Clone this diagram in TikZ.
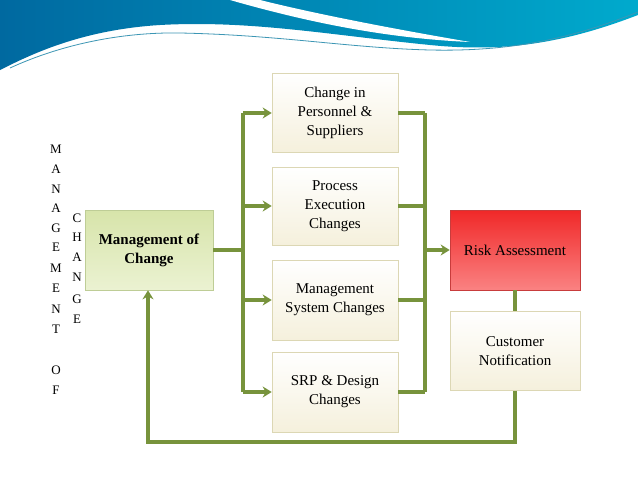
\documentclass[tikz,border=0pt]{standalone}
\usepackage{fontspec}
\setmainfont{Liberation Serif}
\usetikzlibrary{arrows.meta}
\definecolor{lineg}{RGB}{119,147,60}
\definecolor{wblue}{RGB}{0,105,160}
\definecolor{wcyan}{RGB}{0,170,205}
\definecolor{wline}{RGB}{60,150,180}
\definecolor{cbord}{RGB}{220,215,180}
\definecolor{cbot}{RGB}{245,240,220}
\definecolor{gbord}{RGB}{190,205,150}
\definecolor{gtop}{RGB}{215,228,170}
\definecolor{gbot}{RGB}{235,242,210}
\definecolor{rbord}{RGB}{200,60,60}
\definecolor{rtop}{RGB}{240,40,40}
\definecolor{rbot}{RGB}{250,130,130}
\begin{document}
\begin{tikzpicture}[x=1pt,y=-1pt,
  conn/.style={draw=lineg,line width=3.3pt},
  arr/.style={conn,-{Stealth[length=9pt,width=11pt]}},
  cbox/.style={draw=cbord,line width=0.6pt,top color=white,bottom color=cbot,
     minimum width=126pt,align=center,font=\fontsize{15}{19}\selectfont,inner sep=2pt},
  letter/.style={font=\fontsize{13}{13}\selectfont,inner sep=0pt}]
\useasboundingbox (0,0) rectangle (638,479);
\fill[white] (0,0) rectangle (638,479);
% header wave
\shade[left color=wblue,right color=wcyan]
  (0,0) -- (638,0) -- (638,15) .. controls (560,45) and (500,52) .. (430,45)
  .. controls (330,35) and (250,20) .. (160,25) .. controls (80,30) and (30,55) .. (0,70) -- cycle;
\fill[white] (230,0) .. controls (300,20) and (380,38) .. (470,42) .. controls (400,30) and (320,15) .. (260,0) -- cycle;
\draw[wline,line width=0.8pt] (10,68) .. controls (60,45) and (120,32) .. (180,33) .. controls (280,35) and (350,48) .. (430,50) .. controls (520,52) and (580,35) .. (638,12);
% left letters
\foreach \l/\y in {M/149,A/169,N/189,A/208,G/228,E/247,M/268,E/288,N/309,T/329,O/370,F/390}
  \node[letter] at (56,\y) {\l};
\foreach \l/\y in {C/218,H/237,A/257,N/277,G/299,E/319}
  \node[letter] at (77,\y) {\l};
% boxes
\node[cbox,minimum width=128pt,minimum height=80pt,draw=gbord,top color=gtop,bottom color=gbot,
  font=\bfseries\fontsize{15}{19}\selectfont] (moc) at (149,250) {Management of\\Change};
\node[cbox,minimum height=79pt] (b1) at (335,113) {Change in\\Personnel \&\\Suppliers};
\node[cbox,minimum height=78pt] (b2) at (335,206) {Process\\Execution\\Changes};
\node[cbox,minimum height=80pt] (b3) at (335,300) {Management\\System Changes};
\node[cbox,minimum height=80pt] (b4) at (335,392) {SRP \& Design\\Changes};
\node[cbox,minimum width=130pt,minimum height=80pt,draw=rbord,top color=rtop,bottom color=rbot] (risk) at (515,250) {Risk Assessment};
\node[cbox,minimum width=130pt,minimum height=79pt] (cust) at (515,351) {Customer\\Notification};
% connectors
\coordinate (lb) at (243,250);
\coordinate (rb) at (425,250);
\draw[conn] (moc.east) -- (lb);
\draw[conn] (243,113) -- (243,392);
\foreach \b in {b1,b2,b3,b4} {
  \draw[arr] (lb |- \b.west) -- (\b.west);
  \draw[conn] (\b.east) -- (rb |- \b.east);
}
\draw[conn] (425,113) -- (425,392);
\draw[arr] (rb) -- (risk.west);
\draw[conn] (risk.south) -- (cust.north);
\coordinate (c1) at (515,442);
\coordinate (c2) at (148,442);
\draw[arr] (cust.south) -- (c1) -- (c2) -- (moc.south -| c2);
\end{tikzpicture}
\end{document}
